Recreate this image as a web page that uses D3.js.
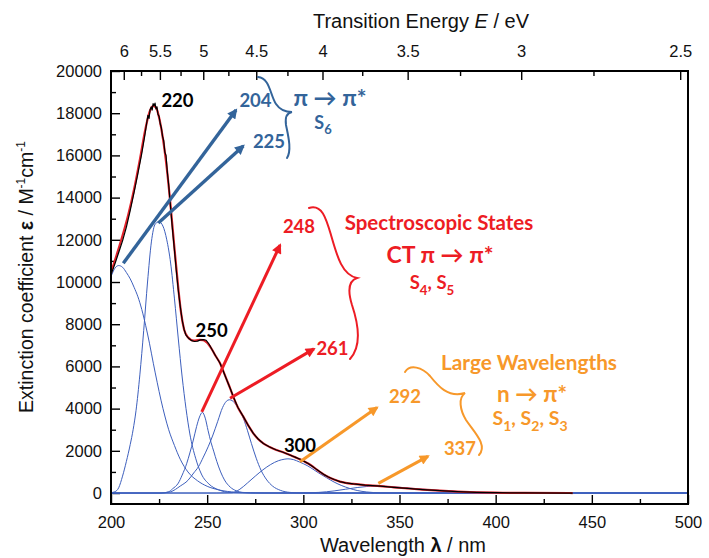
<!DOCTYPE html>
<html>
<head>
<meta charset="utf-8">
<script src="https://cdn.jsdelivr.net/npm/d3@7"></script>
<style>
  html, body { margin: 0; padding: 0; background: #fff; }
  svg { display: block; }
</style>
</head>
<body>
<svg id="chart" width="709" height="558"></svg>
<script>
// ---------- axis ticks ----------
const wavelengthTicks = [200, 250, 300, 350, 400, 450, 500];
const wavelengthMinor = [225, 275, 325, 375, 425, 475];
const epsilonTicks = [0, 2000, 4000, 6000, 8000, 10000, 12000, 14000, 16000, 18000, 20000];
const epsilonMinor = [1000, 3000, 5000, 7000, 9000, 11000, 13000, 15000, 17000, 19000];
const energyTicks = [6, 5.5, 5, 4.5, 4, 3.5, 3, 2.5];
const energyMinor = [5.75, 5.25, 4.75, 4.25, 3.75, 3.25, 2.75];
const HC = 1239.84; // eV·nm

// ---------- spectra: [wavelength nm, epsilon M^-1 cm^-1] ----------
const measured = [
  [200,10350],[202,10850],[204,11400],[206,11950],[208,12600],[210,13400],[212,14250],
  [214,15150],[216,16100],[217.5,16900],[218.5,17500],[219.2,17900],[219.8,17750],
  [220.3,18150],[220.9,18300],[221.4,18150],[221.9,18450],[222.4,18350],[222.9,18480],
  [223.4,18200],[223.9,18300],[224.4,17950],[225,17850],[225.6,17500],[226.2,17300],
  [226.8,16900],[227.4,16700],[228,16150],[228.6,16000],[229.3,15200],[230,14600],
  [231,13500],[232,12450],[233,11500],[234,10500],[235,9600],[236,8850],[237,8200],
  [238,7750],[239,7480],[240.5,7320],[242,7220],[243.5,7180],[245,7200],[246.5,7260],
  [248,7270],[249.5,7240],[251,7050],[252.5,6800],[254.5,6480],[256.7,6150],[258.5,5750],
  [260.2,5360],[262,4950],[263.6,4560],[266,4050],[268.8,3620],[271.5,3180],[274,2830],
  [276.5,2560],[279.2,2350],[282.5,2180],[286,2040],[289.5,1930],[293,1800],[296,1690],
  [298.3,1600],[300.5,1500],[302.5,1400],[305,1250],[307,1110],[309,980],[311,860],
  [313,760],[316,640],[319,540],[322,480],[326,430],[332,375],[340,330],[347,270],
  [354,220],[362,165],[371,110],[380,70],[390,35],[400,15],[415,5],[440,0]
];
const fitted = [
  [200,10450],[203,11300],[206,12200],[209,13200],[212,14400],[215,15800],[218,17300],
  [220,18050],[222,18350],[223.5,18250],[225,17800],[227,16800],[229,15400],[231,13600],
  [233,11600],[235,9700],[236.5,8500],[238,7750],[240,7380],[243,7220],[246,7260],
  [248,7250],[250,7120],[252.5,6800],[254.5,6480],[256.7,6150],[258.5,5750],[260.2,5360],
  [262,4950],[263.6,4560],[266,4050],[268.8,3620],[271.5,3180],[274,2830],[276.5,2560],
  [279.2,2350],[282.5,2180],[286,2040],[289.5,1930],[293,1800],[296,1690],[298.3,1600],
  [300.5,1500],[302.5,1400],[305,1250],[307,1110],[309,980],[311,860],[313,760],[316,640],
  [319,540],[322,480],[326,430],[332,375],[340,330],[347,270],[354,220],[362,165],
  [371,110],[380,70],[390,35],[400,15],[415,5],[440,0]
];

// ---------- deconvoluted bands ----------
const band204 = [
  [200,10250],[202,10650],[204,10780],[206,10700],[208,10450],[210,10150],[212,9750],
  [214,9300],[216,8700],[218,7950],[220,7100],[222,6150],[224,5250],[226,4400],[228,3650],
  [230,3000],[233,2250],[236,1600],[240,1000],[245,580],[250,320],[256,150],[265,40],
  [280,5],[300,0],[500,0]
];
const band225 = [
  [200,20],[202,60],[204,250],[206,800],[208,1500],[210,2300],[211.5,3000],[213,3900],
  [215,5600],[217,7700],[219,10000],[221,11900],[223,12750],[225,12850],[227,12650],
  [229,12000],[231,10900],[233,9200],[235,7300],[237,5500],[239,4000],[241,2800],
  [244,1650],[247,900],[251,420],[256,150],[262,30],[275,0],[500,0]
];
const band248 = [
  [200,0],[226,0],[230,60],[232,200],[235,470],[237,850],[239.4,1410],[241,1900],
  [242.8,2510],[244.5,3150],[246,3600],[247.5,3820],[249,3550],[250.5,2950],[252,2400],
  [253.5,1950],[255,1500],[257,1000],[259,620],[262,280],[265,110],[269,20],[275,0],[500,0]
];
const band261 = [
  [200,0],[226,0],[231,60],[236,330],[240,600],[243,950],[245.5,1250],[248,1700],
  [250.5,2190],[253,2750],[255.5,3400],[258,4050],[260,4350],[261.5,4420],[263,4380],
  [265,4180],[267,3900],[269,3500],[271,2950],[273,2350],[275.5,1650],[278,1080],
  [281,620],[284,330],[288,130],[293,30],[300,0],[500,0]
];
const band292 = [
  [200,0],[255,0],[263,15],[267,180],[271,480],[275,800],[279,1100],[283,1350],
  [287,1530],[290,1600],[292,1620],[295,1580],[298,1470],[302,1300],[305,1130],
  [308,950],[312,730],[316,520],[320,350],[324,220],[328,120],[333,50],[340,10],
  [350,0],[500,0]
];
const band337 = [
  [200,0],[290,0],[300,10],[308,30],[316,100],[322,180],[328,260],[333,310],[337,330],
  [342,320],[350,270],[360,195],[372,115],[385,50],[400,15],[420,0],[500,0]
];
const bands = [band204, band225, band248, band261, band292, band337];

// ---------- annotation arrows, in data units ----------
const arrowSpecs = [
  { from: [206.4, 10890], to: [265.0, 18150], color: "#33649a", w: 3.4 },
  { from: [224.6, 12800], to: [268.8, 16450], color: "#33649a", w: 3.4 },
  { from: [247.2, 3850],  to: [287.9, 11750], color: "#ed1c24", w: 3.0 },
  { from: [261.9, 4490],  to: [305.5, 6830],  color: "#ed1c24", w: 3.0 },
  { from: [298.3, 1480],  to: [338.3, 4050],  color: "#f7982a", w: 3.0 },
  { from: [339.0, 460],   to: [364.8, 1740],  color: "#f7982a", w: 3.0 }
];

// ---------- layout ----------
const plot = { left: 111, right: 688, top: 71, bottom: 504 };
const axisFont = "'Liberation Sans', Arial, Helvetica, sans-serif";
const noteFont = "Lato, 'Open Sans', 'DejaVu Sans', sans-serif";
const tickSize = 16.5;

const svg = d3.select("#chart");

const x = d3.scaleLinear().domain([200, 500]).range([plot.left, plot.right]);
const y = d3.scaleLinear().domain([-520, 20000]).range([plot.bottom, plot.top]);

// ---------- axes (ticks point inward) ----------
function styleAxis(g) {
  g.select(".domain").remove();
  g.selectAll(".tick line").attr("stroke", "#000").attr("stroke-width", 1.4);
  g.selectAll(".tick text").attr("font-family", axisFont).attr("font-size", tickSize).attr("fill", "#111");
}

svg.append("g").attr("transform", `translate(0,${plot.bottom})`)
  .call(d3.axisBottom(x).tickValues(wavelengthTicks).tickSize(-9).tickSizeOuter(0).tickPadding(12))
  .call(styleAxis);
svg.append("g").attr("transform", `translate(0,${plot.bottom})`)
  .call(d3.axisBottom(x).tickValues(wavelengthMinor).tickSize(-5).tickSizeOuter(0).tickFormat(""))
  .call(styleAxis);

svg.append("g").attr("transform", `translate(${plot.left},0)`)
  .call(d3.axisLeft(y).tickValues(epsilonTicks).tickSize(-9).tickSizeOuter(0).tickPadding(9).tickFormat(d3.format("d")))
  .call(styleAxis);
svg.append("g").attr("transform", `translate(${plot.left},0)`)
  .call(d3.axisLeft(y).tickValues(epsilonMinor).tickSize(-5).tickSizeOuter(0).tickFormat(""))
  .call(styleAxis);

svg.append("g").attr("transform", `translate(0,${plot.top})`)
  .call(d3.axisTop(x).tickValues(energyTicks.map(e => HC / e)).tickSize(-9).tickSizeOuter(0).tickPadding(14)
    .tickFormat((d, i) => String(energyTicks[i])))
  .call(styleAxis);
svg.append("g").attr("transform", `translate(0,${plot.top})`)
  .call(d3.axisTop(x).tickValues(energyMinor.map(e => HC / e)).tickSize(-5).tickSizeOuter(0).tickFormat(""))
  .call(styleAxis);

// ---------- axis titles ----------
const xt = svg.append("text").attr("x", 403).attr("y", 552).attr("text-anchor", "middle")
  .attr("font-family", axisFont).attr("font-size", 20).attr("fill", "#111");
xt.append("tspan").text("Wavelength ");
xt.append("tspan").attr("font-weight", "bold").text("λ");
xt.append("tspan").text(" / nm");

const tt = svg.append("text").attr("x", 421).attr("y", 28).attr("text-anchor", "middle")
  .attr("font-family", axisFont).attr("font-size", 20).attr("fill", "#111");
tt.append("tspan").text("Transition Energy ");
tt.append("tspan").attr("font-style", "italic").text("E");
tt.append("tspan").text(" / eV");

const yt = svg.append("text").attr("transform", "translate(33,277) rotate(-90)")
  .attr("text-anchor", "middle").attr("font-family", axisFont).attr("font-size", 19.5).attr("fill", "#111");
yt.append("tspan").text("Extinction coefficient ");
yt.append("tspan").attr("font-weight", "bold").text("ε");
yt.append("tspan").text(" / M");
yt.append("tspan").attr("font-size", 12).attr("dy", -8).text("-1");
yt.append("tspan").attr("dy", 8).text("cm");
yt.append("tspan").attr("font-size", 12).attr("dy", -8).text("-1");

// ---------- curves ----------
const line = d3.line().x(d => x(d[0])).y(d => y(d[1])).curve(d3.curveMonotoneX);
svg.append("clipPath").attr("id", "plotclip").append("rect")
  .attr("x", plot.left).attr("y", plot.top)
  .attr("width", plot.right - plot.left).attr("height", plot.bottom - plot.top);
const curves = svg.append("g").attr("clip-path", "url(#plotclip)");

curves.selectAll("path.band").data(bands).join("path")
  .attr("class", "band").attr("d", line)
  .attr("fill", "none").attr("stroke", "#3d5fbd").attr("stroke-width", 1);

curves.append("path").datum(fitted).attr("d", line)
  .attr("fill", "none").attr("stroke", "#e3222b").attr("stroke-width", 2.2);
curves.append("path").datum(measured).attr("d", d3.line().x(d => x(d[0])).y(d => y(d[1])))
  .attr("fill", "none").attr("stroke", "#000").attr("stroke-width", 1.2).attr("stroke-linejoin", "round");

// ---------- frame ----------
svg.append("rect").attr("x", plot.left).attr("y", plot.top)
  .attr("width", plot.right - plot.left).attr("height", plot.bottom - plot.top)
  .attr("fill", "none").attr("stroke", "#000").attr("stroke-width", 2);

// ---------- arrows ----------
const defs = svg.append("defs");
const colors = Array.from(new Set(arrowSpecs.map(a => a.color)));
colors.forEach((c, i) => {
  defs.append("marker").attr("id", "head" + i)
    .attr("viewBox", "0 0 10 10").attr("refX", 8).attr("refY", 5)
    .attr("markerWidth", 11).attr("markerHeight", 10).attr("markerUnits", "userSpaceOnUse")
    .attr("orient", "auto")
    .append("path").attr("d", "M0,0 L10,5 L0,10 Z").attr("fill", c);
});
svg.append("g").selectAll("line").data(arrowSpecs).join("line")
  .attr("x1", d => x(d.from[0])).attr("y1", d => y(d.from[1]))
  .attr("x2", d => x(d.to[0])).attr("y2", d => y(d.to[1]))
  .attr("stroke", d => d.color).attr("stroke-width", d => d.w)
  .attr("marker-end", d => `url(#head${colors.indexOf(d.color)})`);

// ---------- braces ----------
const braces = [
  { d: "M258,77 C270,78 270,95 276,104 C280,110 285,112 292,112 C286,113 285,118 286,125 C288,135 292,150 287,158", color: "#33649a" },
  { d: "M309,208 C322,204 326,218 331,235 C337,256 342,275 357,278 C348,281 348,292 352,305 C357,320 363,345 350,359", color: "#ed1c24" },
  { d: "M405,372 C410,364 422,367 430,376 C438,386 448,398 465,393 C458,398 460,410 466,420 C474,432 488,445 479,455", color: "#f7982a" }
];
svg.append("g").selectAll("path").data(braces).join("path")
  .attr("d", d => d.d).attr("fill", "none").attr("stroke", d => d.color)
  .attr("stroke-width", 2).attr("stroke-linecap", "round");

// ---------- annotation text ----------
// each entry: pieces of [text, isSubscript]
const notes = [
  { x: 177.5, y: 107, size: 18.5, color: "#000", parts: [["220"]] },
  { x: 211.7, y: 337, size: 18.5, color: "#000", parts: [["250"]] },
  { x: 300,   y: 452, size: 18.5, color: "#000", parts: [["300"]] },
  { x: 255.5, y: 106.5, size: 18.5, color: "#33649a", parts: [["204"]] },
  { x: 269,   y: 148, size: 18.5, color: "#33649a", parts: [["225"]] },
  { x: 330,   y: 106, size: 23, color: "#33649a", parts: [["π → π*"]] },
  { x: 323,   y: 128.5, size: 18, color: "#33649a", parts: [["S"], ["6", true]] },
  { x: 299,   y: 233, size: 18.5, color: "#ed1c24", parts: [["248"]] },
  { x: 332.5, y: 355, size: 18.5, color: "#ed1c24", parts: [["261"]] },
  { x: 439,   y: 230, size: 20.5, color: "#ed1c24", parts: [["Spectroscopic States"]] },
  { x: 440,   y: 263, size: 23, color: "#ed1c24", parts: [["CT π → π*"]] },
  { x: 432,   y: 289, size: 18.5, color: "#ed1c24", parts: [["S"], ["4", true], [", S"], ["5", true]] },
  { x: 405,   y: 403, size: 18.5, color: "#f7982a", parts: [["292"]] },
  { x: 460,   y: 455, size: 18.5, color: "#f7982a", parts: [["337"]] },
  { x: 529,   y: 370, size: 20.8, color: "#f7982a", parts: [["Large Wavelengths"]] },
  { x: 532,   y: 402, size: 22.5, color: "#f7982a", parts: [["n → π*"]] },
  { x: 530,   y: 425, size: 19.5, color: "#f7982a", parts: [["S"], ["1", true], [", S"], ["2", true], [", S"], ["3", true]] }
];
const noteG = svg.append("g");
notes.forEach(n => {
  const t = noteG.append("text").attr("x", n.x).attr("y", n.y).attr("text-anchor", "middle")
    .attr("font-family", noteFont).attr("font-weight", "bold")
    .attr("font-size", n.size).attr("fill", n.color);
  let shifted = false;
  n.parts.forEach(([s, sub]) => {
    const sp = t.append("tspan").text(s);
    if (sub && !shifted) { sp.attr("dy", n.size * 0.3).attr("font-size", n.size * 0.72); shifted = true; }
    else if (sub) { sp.attr("font-size", n.size * 0.72); }
    else if (shifted) { sp.attr("dy", -n.size * 0.3); shifted = false; }
  });
});
</script>
</body>
</html>
